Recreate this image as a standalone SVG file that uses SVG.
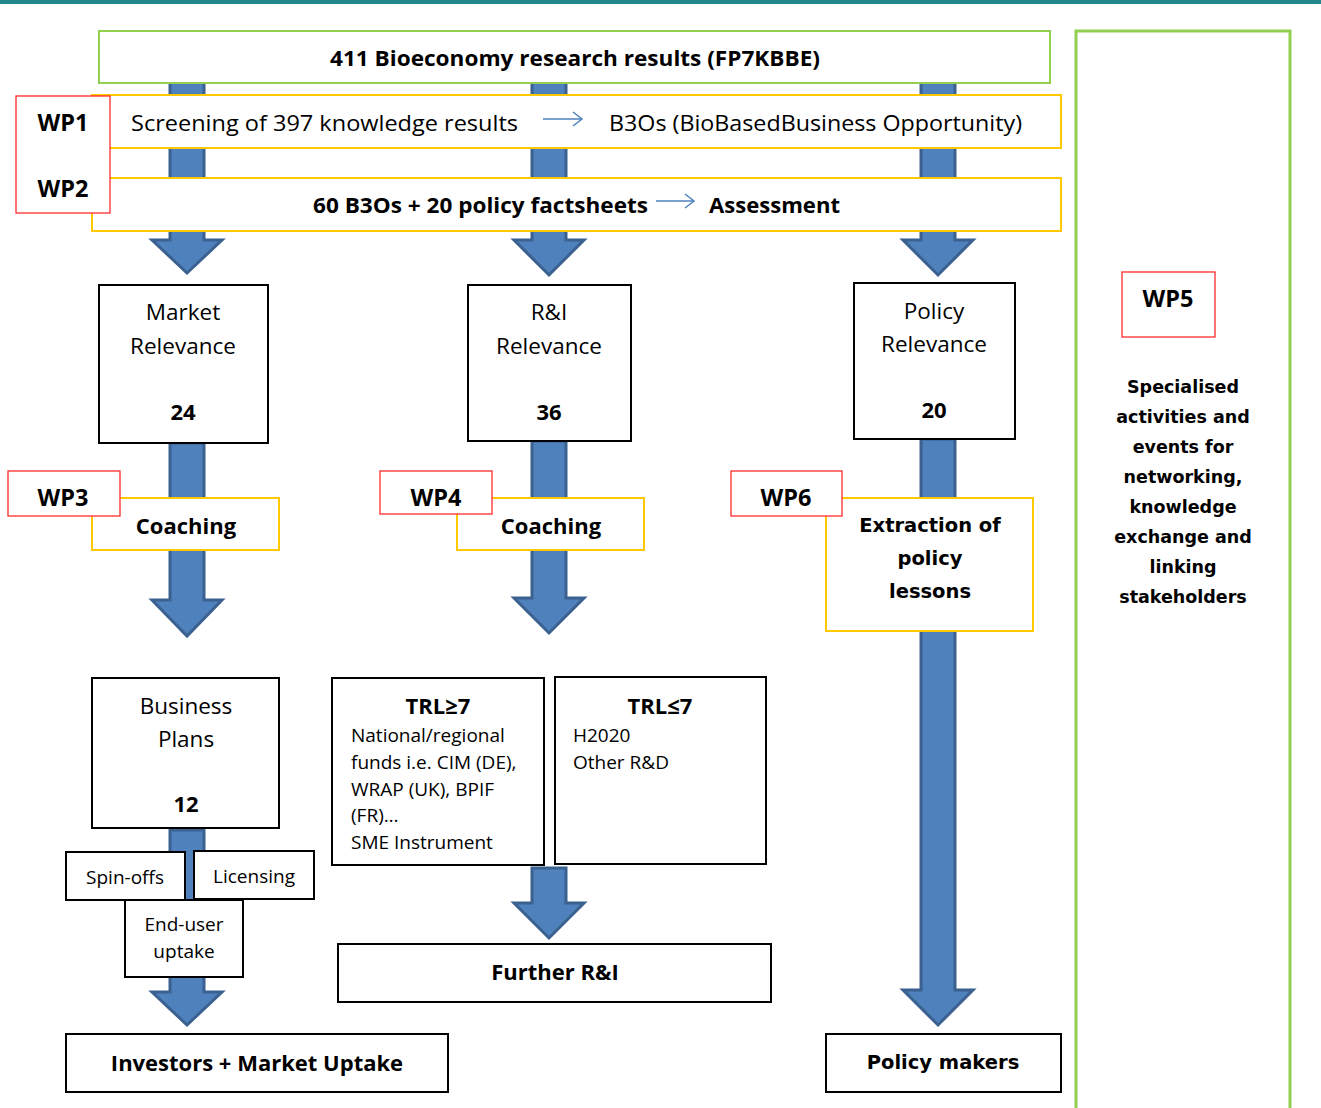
<svg xmlns="http://www.w3.org/2000/svg" width="1321" height="1108" viewBox="0 0 1321 1108">
<style>
.green{fill:#ffffff;stroke:#92d050;stroke-width:2}
.yellow{fill:#ffffff;stroke:#ffc800;stroke-width:2}
.red{fill:#ffffff;stroke:#ff2a2a;stroke-width:1.3}
.black{fill:#ffffff;stroke:#000000;stroke-width:2}
.arr{fill:#4f81bd;stroke:#3b6190;stroke-width:3;stroke-linejoin:miter}
text{font-family:"Open Sans","Liberation Sans",sans-serif;fill:#000;dominant-baseline:central}
.c{text-anchor:middle}
.r22{font-size:22.5px}
.r18{font-size:19px}
.b21{font-size:21px;font-weight:bold}
.b22{font-size:22px;font-weight:bold}
.wp{font-size:23.5px;font-weight:bold;text-anchor:middle}
text.v, .v text{font-family:"DejaVu Sans","Open Sans",sans-serif;font-weight:bold}
.thin{stroke:#4f81bd;stroke-width:1.5;fill:none}
</style>
<rect x="0" y="0" width="1321" height="1108" fill="#ffffff"/>
<rect x="0" y="0" width="1321" height="4" fill="#22868a"/>

<g id="connectors">
  <polygon class="arr" points="170,80 204,80 204,240 222,240 187,273 152,240 170,240"/>
  <polygon class="arr" points="532,80 566,80 566,240 584,240 549,275 514,240 532,240"/>
  <polygon class="arr" points="921,80 955,80 955,240 973,240 938,275 903,240 921,240"/>
  <polygon class="arr" points="170,443 204,443 204,600 222,600 187,636 152,600 170,600"/>
  <polygon class="arr" points="532,441 566,441 566,598 584,598 549,633 514,598 532,598"/>
  <polygon class="arr" points="921,439 955,439 955,990 973,990 938,1025 903,990 921,990"/>
  <polygon class="arr" points="170,830 204,830 204,992 222,992 187,1025 152,992 170,992"/>
  <polygon class="arr" points="532,868 566,868 566,903 584,903 549,938 514,903 532,903"/>
</g>

<g id="top">
  <rect class="green" x="99" y="31" width="951" height="52"/>
  <text class="b21" x="330" y="58" textLength="490" lengthAdjust="spacingAndGlyphs">411 Bioeconomy research results (FP7KBBE)</text>
</g>

<g id="wp1-row">
  <rect class="yellow" x="92" y="95" width="969" height="53"/>
  <text class="r22" x="131" y="122" textLength="387" lengthAdjust="spacingAndGlyphs">Screening of 397 knowledge results</text>
  <line class="thin" x1="543" y1="119" x2="582" y2="119"/>
  <polyline class="thin" points="573,112 582,119 573,126"/>
  <text class="r22" x="609" y="122" textLength="413" lengthAdjust="spacingAndGlyphs">B3Os (BioBasedBusiness Opportunity)</text>
</g>

<g id="wp2-row">
  <rect class="yellow" x="92" y="178" width="969" height="53"/>
  <text class="b21" x="313" y="205" textLength="335" lengthAdjust="spacingAndGlyphs">60 B3Os + 20 policy factsheets</text>
  <line class="thin" x1="656" y1="201" x2="694" y2="201"/>
  <polyline class="thin" points="685,194 694,201 685,208"/>
  <text class="b21" x="709" y="205" textLength="131" lengthAdjust="spacingAndGlyphs">Assessment</text>
</g>

<g id="wp12">
  <rect class="red" x="16" y="96" width="94" height="117"/>
  <text class="wp" x="63" y="122">WP1</text>
  <text class="wp" x="63" y="188">WP2</text>
</g>

<g id="wp5-panel">
  <rect x="1076" y="31" width="214" height="1090" fill="#ffffff" stroke="#92d050" stroke-width="3"/>
  <rect class="red" x="1122" y="272" width="93" height="65"/>
  <text class="wp" x="1168" y="298">WP5</text>
  <g class="v" font-size="17.5" text-anchor="middle">
    <text x="1183" y="387">Specialised</text>
    <text x="1183" y="417">activities and</text>
    <text x="1183" y="447">events for</text>
    <text x="1183" y="477">networking,</text>
    <text x="1183" y="507">knowledge</text>
    <text x="1183" y="537">exchange and</text>
    <text x="1183" y="567">linking</text>
    <text x="1183" y="597">stakeholders</text>
  </g>
</g>

<g id="market">
  <rect class="black" x="99" y="285" width="169" height="158"/>
  <text class="c r22" x="183" y="311">Market</text>
  <text class="c r22" x="183" y="345">Relevance</text>
  <text class="c b22" x="183" y="411">24</text>
</g>
<g id="ri">
  <rect class="black" x="468" y="285" width="163" height="156"/>
  <text class="c r22" x="549" y="311">R&amp;I</text>
  <text class="c r22" x="549" y="345">Relevance</text>
  <text class="c b22" x="549" y="411">36</text>
</g>
<g id="policy">
  <rect class="black" x="854" y="283" width="161" height="156"/>
  <text class="c r22" x="934" y="310">Policy</text>
  <text class="c r22" x="934" y="343">Relevance</text>
  <text class="c b22" x="934" y="409">20</text>
</g>

<g id="coaching1">
  <rect class="yellow" x="92" y="498" width="187" height="52"/>
  <text class="c b22" x="186" y="525">Coaching</text>
</g>
<g id="wp3">
  <rect class="red" x="8" y="471" width="112" height="45"/>
  <text class="wp" x="63" y="497">WP3</text>
</g>
<g id="coaching2">
  <rect class="yellow" x="457" y="498" width="187" height="52"/>
  <text class="c b22" x="551" y="525">Coaching</text>
</g>
<g id="wp4">
  <rect class="red" x="380" y="471" width="112" height="43"/>
  <text class="wp" x="436" y="497">WP4</text>
</g>
<g id="extraction">
  <rect class="yellow" x="826" y="498" width="207" height="133"/>
  <g class="v" font-size="19.5" text-anchor="middle">
    <text x="930" y="525">Extraction of</text>
    <text x="930" y="558">policy</text>
    <text x="930" y="591">lessons</text>
  </g>
</g>
<g id="wp6">
  <rect class="red" x="731" y="471" width="111" height="45"/>
  <text class="wp" x="786" y="497">WP6</text>
</g>

<g id="business">
  <rect class="black" x="92" y="678" width="187" height="150"/>
  <text class="c r22" x="186" y="705">Business</text>
  <text class="c r22" x="186" y="738">Plans</text>
  <text class="c b22" x="186" y="803">12</text>
</g>
<g id="trl-ge">
  <rect class="black" x="332" y="678" width="212" height="187"/>
  <text class="c b22" x="438" y="705">TRL≥7</text>
  <text class="r18" x="351" y="735">National/regional</text>
  <text class="r18" x="351" y="762">funds i.e. CIM (DE),</text>
  <text class="r18" x="351" y="789">WRAP (UK), BPIF</text>
  <text class="r18" x="351" y="815">(FR)…</text>
  <text class="r18" x="351" y="842">SME Instrument</text>
</g>
<g id="trl-le">
  <rect class="black" x="555" y="677" width="211" height="187"/>
  <text class="c b22" x="660" y="705">TRL≤7</text>
  <text class="r18" x="573" y="735">H2020</text>
  <text class="r18" x="573" y="762">Other R&amp;D</text>
</g>

<g id="spinoffs">
  <rect class="black" x="66" y="852" width="119" height="48"/>
  <text class="c r18" x="125" y="877">Spin-offs</text>
</g>
<g id="licensing">
  <rect class="black" x="194" y="851" width="120" height="48"/>
  <text class="c r18" x="254" y="876">Licensing</text>
</g>
<g id="enduser">
  <rect class="black" x="125" y="900" width="118" height="77"/>
  <text class="c r18" x="184" y="924">End-user</text>
  <text class="c r18" x="184" y="951">uptake</text>
</g>

<g id="further">
  <rect class="black" x="338" y="944" width="433" height="58"/>
  <text class="c b22" x="555" y="971">Further R&amp;I</text>
</g>
<g id="investors">
  <rect class="black" x="66" y="1034" width="382" height="58"/>
  <text class="c b22" x="257" y="1062">Investors + Market Uptake</text>
</g>
<g id="policymakers">
  <rect class="black" x="826" y="1034" width="235" height="58"/>
  <text class="v" font-size="19.5" text-anchor="middle" x="943" y="1062">Policy makers</text>
</g>
</svg>
